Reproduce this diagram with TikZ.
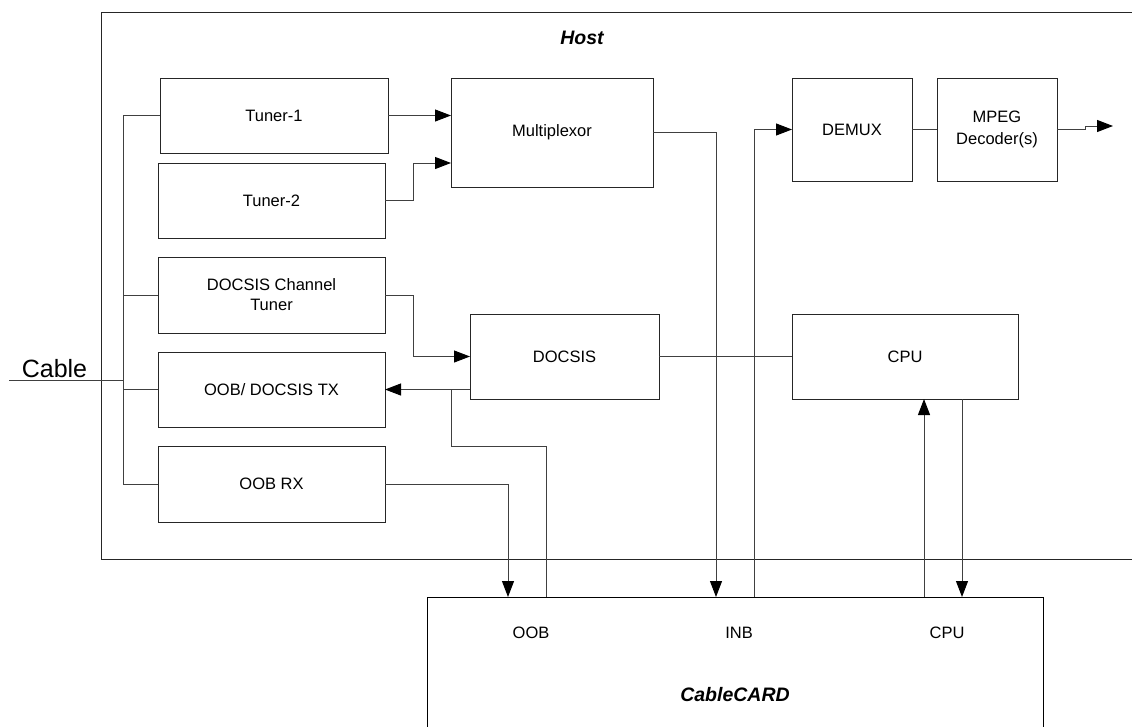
\documentclass[tikz,border=0pt]{standalone}
\usepackage{fontspec}
\setmainfont{Liberation Sans}
\usetikzlibrary{arrows.meta,calc}
\begin{document}
\begin{tikzpicture}[x=1pt,y=-1pt,
  line width=1pt,
  box/.style={draw=black!85, line width=1pt, rectangle, inner sep=0pt, outer sep=0pt,
    font=\fontsize{16.5}{20}\selectfont, align=center},
  wire/.style={draw=black!75, line width=1pt},
  arr/.style={wire, -{Triangle[length=16pt,width=12pt,color=black,fill=black]}},
  lbl/.style={inner sep=0pt, font=\fontsize{16.5}{20}\selectfont},
  title/.style={inner sep=0pt, font=\fontsize{19.5}{22}\selectfont\bfseries\itshape}]
\useasboundingbox (0,0) rectangle (1132,726);
\clip (0,0) rectangle (1132,726);
% Host frame (open on the right)
\draw[draw=black!85] (1160,12) -- (101,12) -- (101,559) -- (1160,559);
\node[title] (hostlbl) at (582,38) {Host};
% boxes
\node[box, minimum width=228pt, minimum height=75pt] (tuner1) at (274,115.5) {Tuner-1};
\node[box, minimum width=227pt, minimum height=75pt] (tuner2) at (271.5,200.5) {Tuner-2};
\node[box, minimum width=227pt, minimum height=76pt] (dct) at (271.5,295) {DOCSIS Channel\\Tuner};
\node[box, minimum width=227pt, minimum height=75pt] (tx) at (271.5,389.5) {OOB/ DOCSIS TX};
\node[box, minimum width=227pt, minimum height=76pt] (rx) at (271.5,484) {OOB RX};
\node[box, minimum width=202pt, minimum height=109pt] (mux) at (552,132.5) {Multiplexor};
\node[box, minimum width=120pt, minimum height=103pt] (demux) at (852,129.5) {DEMUX};
\node[box, minimum width=120pt, minimum height=103pt, font=\fontsize{16.5}{22}\selectfont] (mpeg) at (997,129.5) {MPEG\\Decoder(s)};
\node[box, minimum width=189pt, minimum height=85pt] (docsis) at (564.5,356.5) {DOCSIS};
\node[box, minimum width=226pt, minimum height=85pt] (cpu) at (905,356.5) {CPU};
\node[box, draw=black, minimum width=616pt, minimum height=163pt] (card) at (735,678.5) {};
\node[lbl] (oob) at (531,633) {OOB};
\node[lbl] (inb) at (739,633) {INB};
\node[lbl] (cpul) at (947,633) {CPU};
\node[title] (cardlbl) at (735,695) {CableCARD};
% cable input and bus
\node[inner sep=0pt, anchor=base, font=\fontsize{25}{28}\selectfont] (cablelbl) at (54.5,377) {Cable};
\coordinate (cablein) at (9,380);
\coordinate (bustop) at (123,115.5);
\coordinate (busbot) at (123,484);
\draw[wire] (cablein) -- (cablein -| bustop);
\draw[wire] (tuner1.west) -- (bustop) -- (busbot) -- (rx.west);
\draw[wire] (dct.west) -- (dct.west -| bustop);
\draw[wire] (tx.west) -- (tx.west -| bustop);
% tuners to multiplexor
\draw[arr] (tuner1.east) -- (tuner1.east -| mux.west);
\draw[arr] (tuner2.east) -- ++(28,0) |- ([yshift=-30.5pt]mux.west);
% DOCSIS path
\draw[arr] (dct.east) -- ++(28,0) |- (docsis.west);
\draw[arr] (docsis.west |- tx.east) -- (tx.east);
\coordinate (jtx) at (451,389.5);
\coordinate (oobup) at ([xshift=119pt]card.north west);
\draw[wire] (jtx) -- (451,446) -| (oobup);
\draw[arr] (rx.east) -| ([xshift=81pt]card.north west);
% inband
\draw[arr] (mux.east) -| ([xshift=289pt]card.north west);
\coordinate (inbup) at ([xshift=327pt]card.north west);
\draw[arr] (inbup) |- (demux.west);
\draw[wire] (demux.east) -- (mpeg.east -| mpeg.west);
\coordinate (out) at (1113,126);
\draw[arr] (mpeg.east) -- (1085,129.5) -- (1085,126) -- (out);
% CPU
\draw[wire] (docsis.east) -- (cpu.west);
\coordinate (cpuup) at ([xshift=497pt]card.north west);
\draw[arr] (cpuup) -- (cpuup |- cpu.south);
\coordinate (cpudn) at (962,399);
\draw[arr] (cpudn) -- (cpudn |- card.north);
\end{tikzpicture}
\end{document}
